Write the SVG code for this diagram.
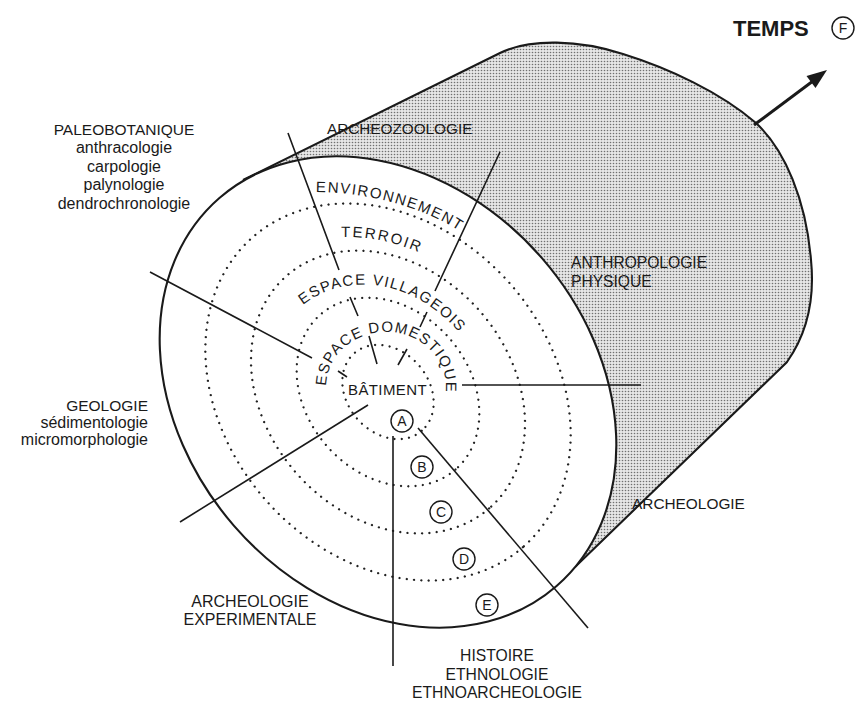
<svg xmlns="http://www.w3.org/2000/svg" width="866" height="701" viewBox="0 0 866 701">
<defs>
<pattern id="dots" width="3" height="3" patternUnits="userSpaceOnUse">
<rect width="3" height="3" fill="#e6e6e6"/>
<circle cx="1.5" cy="1.5" r="0.8" fill="#707070"/>
</pattern>
<path id="p-env" d="M 316,192 C 360,192 420,204 464,234"/>
<path id="p-ter" d="M 341,237 Q 380,236 418,252"/>
<path id="p-vil" d="M 303,305 C 340,275 410,272 464,338"/>
<path id="p-dom" d="M 326,386 A 60,55 0 0 1 446,388"/>
</defs>
<style>
.lbl{font-family:"Liberation Sans",Arial,sans-serif;fill:#1a1a1a}
.zone{font-family:"Liberation Sans",Arial,sans-serif;font-size:15px;fill:#1a1a1a}
.ring{fill:none;stroke:#222;stroke-width:2.3;stroke-linecap:round;stroke-dasharray:0 7.3}
.ln{stroke:#1a1a1a;stroke-width:1.6;fill:none}
.out{stroke:#1a1a1a;stroke-width:2.1;fill:none}
.circ{fill:none;stroke:#1a1a1a;stroke-width:1.4}
</style>
<rect width="866" height="701" fill="#fff"/>

<g id="cylinder">
<path d="M 243,180 L 500,53 C 530,38 580,40 623,54 C 668,68 720,92 756,123 C 785,150 806,200 811,260 C 815,300 806,335 787,362 L 575,567 L 388,392 Z" fill="url(#dots)"/>
<path class="out" d="M 243,180 L 500,53 C 530,38 580,40 623,54 C 668,68 720,92 756,123 C 785,150 806,200 811,260 C 815,300 806,335 787,362 L 575,567"/>
<ellipse cx="388" cy="392" rx="257" ry="204" transform="rotate(49 388 392)" fill="#fff" stroke="#1a1a1a" stroke-width="2.1"/>
</g>

<g id="rings">
<ellipse class="ring" cx="388" cy="392" rx="51.4" ry="40.8" transform="rotate(49 388 392)"/>
<ellipse class="ring" cx="388" cy="392" rx="102.8" ry="81.6" transform="rotate(49 388 392)"/>
<ellipse class="ring" cx="388" cy="392" rx="154.2" ry="122.4" transform="rotate(49 388 392)"/>
<ellipse class="ring" cx="388" cy="392" rx="205.6" ry="163.2" transform="rotate(49 388 392)"/>
</g>

<g id="connectors">
<path class="ln" d="M 288,133 L 339,270 M 350,297 L 358,316 M 369,336 L 377,364"/>
<path class="ln" d="M 500,152 L 435,291 M 427,312 L 420,327 M 407,349 L 398,365"/>
<path class="ln" d="M 150,272 L 312,358 M 338,371 L 347,377"/>
<path class="ln" d="M 180,522 L 368,405"/>
<path class="ln" d="M 393,436 L 393,666"/>
<path class="ln" d="M 418,428 L 588,628"/>
<path class="ln" d="M 462,385 L 641,385"/>
<g id="arrow-temps">
<line x1="754" y1="125" x2="813" y2="81" stroke="#1a1a1a" stroke-width="3"/>
<polygon points="827,70 815.5,88 806.5,76" fill="#1a1a1a"/>
</g>
</g>

<g id="zone-environnement"><text class="zone" letter-spacing="1.5"><textPath href="#p-env">ENVIRONNEMENT</textPath></text></g>
<g id="zone-terroir"><text class="zone" letter-spacing="2"><textPath href="#p-ter">TERROIR</textPath></text></g>
<g id="zone-villageois"><text class="zone" letter-spacing="1.4"><textPath href="#p-vil">ESPACE VILLAGEOIS</textPath></text></g>
<g id="zone-domestique"><text class="zone" font-size="14" letter-spacing="1.2"><textPath href="#p-dom">ESPACE DOMESTIQUE</textPath></text></g>
<g id="zone-batiment"><text class="zone" x="348" y="395" letter-spacing="0.4">BÂTIMENT</text></g>

<g id="marker-a"><circle class="circ" cx="402" cy="421" r="11"/><text class="lbl" x="402" y="426" font-size="14" text-anchor="middle">A</text></g>
<g id="marker-b"><circle class="circ" cx="422" cy="467" r="11"/><text class="lbl" x="422" y="472" font-size="14" text-anchor="middle">B</text></g>
<g id="marker-c"><circle class="circ" cx="441" cy="512" r="11"/><text class="lbl" x="441" y="517" font-size="14" text-anchor="middle">C</text></g>
<g id="marker-d"><circle class="circ" cx="464" cy="559" r="11"/><text class="lbl" x="464" y="564" font-size="14" text-anchor="middle">D</text></g>
<g id="marker-e"><circle class="circ" cx="487" cy="605" r="11"/><text class="lbl" x="487" y="610" font-size="14" text-anchor="middle">E</text></g>

<g id="temps">
<text class="lbl" x="733" y="36" font-size="22" font-weight="bold">TEMPS</text>
<circle class="circ" cx="843" cy="28" r="11"/>
<text class="lbl" x="843" y="33" font-size="14" text-anchor="middle">F</text>
</g>

<g id="paleobotanique" class="lbl" text-anchor="middle">
<text x="124" y="135" font-size="15.5">PALEOBOTANIQUE</text>
<text x="124" y="153" font-size="16">anthracologie</text>
<text x="124" y="172" font-size="16">carpologie</text>
<text x="124" y="190" font-size="16">palynologie</text>
<text x="124" y="209" font-size="16">dendrochronologie</text>
</g>

<g id="archeozoologie" class="lbl"><text x="327" y="134" font-size="15.3">ARCHEOZOOLOGIE</text></g>

<g id="anthropologie" class="lbl">
<text x="571" y="268" font-size="15.6">ANTHROPOLOGIE</text>
<text x="571" y="287" font-size="15.6">PHYSIQUE</text>
</g>

<g id="geologie" class="lbl" text-anchor="end">
<text x="148" y="411" font-size="15.5">GEOLOGIE</text>
<text x="148" y="428" font-size="16">sédimentologie</text>
<text x="148" y="445" font-size="16">micromorphologie</text>
</g>

<g id="archeologie" class="lbl"><text x="632" y="509" font-size="15.4">ARCHEOLOGIE</text></g>

<g id="archeologie-experimentale" class="lbl" text-anchor="middle">
<text x="250" y="607" font-size="16">ARCHEOLOGIE</text>
<text x="250" y="625" font-size="16">EXPERIMENTALE</text>
</g>

<g id="histoire" class="lbl" text-anchor="middle">
<text x="497" y="661" font-size="15.7">HISTOIRE</text>
<text x="497" y="680" font-size="15.7">ETHNOLOGIE</text>
<text x="497" y="698" font-size="15.7">ETHNOARCHEOLOGIE</text>
</g>
</svg>
